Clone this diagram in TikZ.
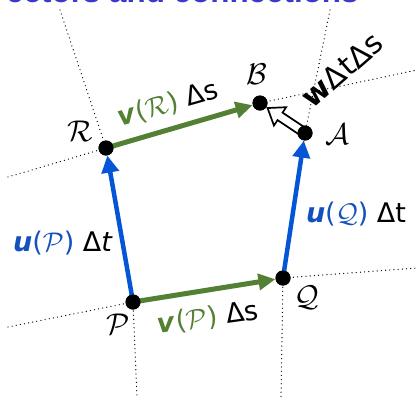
\documentclass[tikz,border=0pt]{standalone}
\usepackage{fix-cm}
\usepackage{fontspec}
\setsansfont{DejaVu Sans}
\newfontfamily\titlefont{Liberation Sans}
\usetikzlibrary{arrows.meta}
\definecolor{ublue}{RGB}{5,85,215}
\definecolor{utext}{RGB}{20,80,190}
\definecolor{vgreen}{RGB}{84,128,52}
\definecolor{titleblue}{RGB}{60,55,205}
\tikzset{
  pt/.style={circle,fill=black,inner sep=0pt,minimum size=15pt},
  grid/.style={line width=1.3pt,dash pattern=on 0pt off 4.2pt,line cap=round},
  uarrow/.style={ublue,line width=4.5pt,-{Triangle[length=17pt,width=17pt]}},
  varrow/.style={vgreen,line width=5pt,-{Triangle[length=17pt,width=16pt]}},
  ptlabel/.style={inner sep=0pt,font=\fontsize{30}{34}\selectfont},
  vlabel/.style={inner sep=0pt,font=\sffamily\fontsize{27}{31}\selectfont},
}
\newcommand{\uvec}{\textcolor{utext}{\textbf{\textit{u}}}}
\newcommand{\vvec}{\textcolor{vgreen}{\textbf{\textit{v}}}}
\begin{document}
\begin{tikzpicture}[x=1pt,y=-1pt]
\useasboundingbox (0,0) rectangle (417,397);
\clip (0,0) rectangle (417,397);
% title fragment
\node[anchor=base west,inner sep=0pt,font=\titlefont\bfseries\fontsize{31.4}{34}\selectfont,text=titleblue] (title) at (6,2.5) {ectors and connections};
% points
\coordinate (Pc) at (133,302);
\coordinate (Qc) at (283,278);
\coordinate (Rc) at (106,148);
\coordinate (Ac) at (305,133);
\coordinate (Bc) at (260,103);
% grid ends
\coordinate (g1a) at (8,177);
\coordinate (g1b) at (417,70);
\coordinate (g2a) at (60,10);
\coordinate (g2b) at (137,397);
\coordinate (g3a) at (330,10);
\coordinate (g3b) at (281,397);
\coordinate (g4a) at (8,327);
\coordinate (g4b) at (417,268);
\draw[grid] (g1a) -- (Rc) -- (Bc) -- (g1b);
\draw[grid] (g2a) -- (Rc) -- (Pc) -- (g2b);
\draw[grid] (g3a) -- (Ac) -- (Qc) -- (g3b);
\draw[grid] (g4a) -- (Pc) -- (Qc) -- (g4b);
% dots
\node[pt] (P) at (Pc) {};
\node[pt] (Q) at (Qc) {};
\node[pt] (R) at (Rc) {};
\node[pt] (A) at (Ac) {};
\node[pt] (B) at (Bc) {};
% arrows
\draw[uarrow] (Pc) -- (R);
\draw[uarrow] (Qc) -- (A);
\draw[varrow] (Rc) -- (B);
\draw[varrow] (Pc) -- (Q);
% open arrow A -> B
\begin{scope}[shift={(Ac)},rotate=146.31,y=1pt]
\draw[line width=1.7pt,fill=white,line join=miter]
  (4,4.5) -- (30,4.5) -- (30,11) -- (45,0) -- (30,-11) -- (30,-4.5) -- (4,-4.5) -- cycle;
\end{scope}
% redraw dots on top
\node[pt] at (Pc) {};
\node[pt] at (Qc) {};
\node[pt] at (Rc) {};
\node[pt] at (Ac) {};
\node[pt] at (Bc) {};
% point labels
\node[ptlabel] (lP) at (118,324) {$\mathcal{P}$};
\node[ptlabel] (lQ) at (307,298) {$\mathcal{Q}$};
\node[ptlabel] (lR) at (80,131) {$\mathcal{R}$};
\node[ptlabel] (lB) at (257,74) {$\mathcal{B}$};
\node[ptlabel] (lA) at (337,134) {$\mathcal{A}$};
% vector labels
\node[vlabel] (luP) at (63,243) {\uvec\textcolor{utext}{($\mathcal{P}$)} Δ\textit{t}};
\node[vlabel] (luQ) at (356,214) {\uvec\textcolor{utext}{($\mathcal{Q}$)} Δt};
\node[vlabel,rotate=16] (lvR) at (168,104) {\vvec\textcolor{vgreen}{($\mathcal{R}$)} Δs};
\node[vlabel,rotate=8] (lvP) at (208,318) {\vvec\textcolor{vgreen}{($\mathcal{P}$)} Δs};
\node[vlabel,rotate=41,font=\sffamily\fontsize{30}{34}\selectfont] (lw) at (342,70) {\textbf{w}ΔtΔs};
\end{tikzpicture}
\end{document}
